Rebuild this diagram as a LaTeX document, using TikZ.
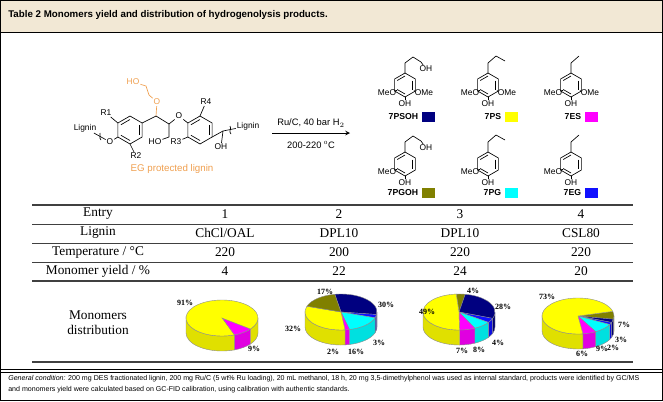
\documentclass[tikz,border=0pt]{standalone}
\usepackage{fontspec}
\setmainfont{Liberation Serif}
\setsansfont{Liberation Sans}
\usetikzlibrary{calc,positioning}
\definecolor{egor}{HTML}{F0A050}
\definecolor{hdr}{HTML}{F2E8D5}
\definecolor{cPSOH}{HTML}{000080}
\definecolor{cPS}{HTML}{FFFF00}
\definecolor{cES}{HTML}{FF00FF}
\definecolor{cPGOH}{HTML}{808000}
\definecolor{cPG}{HTML}{00FFFF}
\definecolor{cEG}{HTML}{1010FF}
\newcommand\hexring[4]{%
 \foreach \k in {0,...,5}{\coordinate (#1-\k) at ({#2+#4*cos(90-60*\k)},{#3-#4*sin(90-60*\k)});}
 \coordinate (#1-c) at (#2,#3);
 \draw[bond] (#1-0)--(#1-1)--(#1-2)--(#1-3)--(#1-4)--(#1-5)--cycle;
 \draw[bond] ($(#1-c)!0.75!(#1-1)$)--($(#1-c)!0.75!(#1-2)$);
 \draw[bond] ($(#1-c)!0.75!(#1-3)$)--($(#1-c)!0.75!(#1-4)$);
 \draw[bond] ($(#1-c)!0.75!(#1-5)$)--($(#1-c)!0.75!(#1-0)$);}
\newcommand\topsl[5]{\fill[#5,draw=black!45,line width=0.3pt] (#1,#2) -- ++({-(#3)}:36 and 18) arc[start angle={-(#3)}, end angle={-(#4)}, x radius=36, y radius=18] -- cycle;}
\newcommand\sidesl[5]{\fill[#5!88!black,draw=black!45,line width=0.3pt] (#1,#2) ++({-(#3)}:36 and 18) arc[start angle={-(#3)}, end angle={-(#4)}, x radius=36, y radius=18] -- ++(0,15) arc[start angle={-(#4)}, end angle={-(#3)}, x radius=36, y radius=18] -- cycle;}
\begin{document}
\begin{tikzpicture}[x=0.75pt,y=-0.75pt,
 bond/.style={line width=0.5pt},
 ch/.style={font=\sffamily\fontsize{6.3}{6.3}\selectfont,inner sep=0.6pt},
 lab/.style={font=\sffamily\bfseries\fontsize{6.5}{7}\selectfont,inner sep=0.5pt},
 sq/.style={minimum width=10pt,minimum height=7pt,inner sep=0pt},
 tb/.style={font=\fontsize{10}{11}\selectfont,inner sep=0pt},
 pl/.style={font=\bfseries\fontsize{6}{6}\selectfont,inner sep=0pt},
 rule/.style={line width=0.6pt,black!75}]
\useasboundingbox (0,0) rectangle (663,401);
\fill[white] (0,0) rectangle (663,401);
\fill[hdr] (0,0) rectangle (663,32);
\draw[line width=0.8pt] (0.5,0.5) rectangle (662.5,400.5);
\draw[line width=0.6pt] (0,32) -- (663,32);
\node[anchor=west,font=\sffamily\bfseries\fontsize{7.3}{8}\selectfont,inner sep=0pt] (title) at (8,15) {Table 2 Monomers yield and distribution of hydrogenolysis products.};
% ---- lignin structure
\hexring{A}{130}{130}{14}
\hexring{B}{200}{130}{14}
\node[ch] (r1) at (106,113) {R1};
\draw[bond] (A-5) -- (r1);
\node[ch] (oA) at (110,142) {O};
\draw[bond] (A-4) -- (oA);
\node[ch] (lig1) at (85,128) {Lignin};
\draw[bond] (oA) -- (lig1);
\draw[bond] (100,133) .. controls (102,136) and (98,137) .. (101,140);
\node[ch] (r2) at (136,156) {R2};
\draw[bond] (A-3) -- (r2);
\coordinate (ca) at (156,116);
\draw[bond] (A-1) -- (ca);
\node[ch,text=egor] (oE) at (157,102) {O};
\draw[bond,egor] (ca) -- (oE);
\coordinate (e1) at (149,95);
\coordinate (e2) at (146,86);
\node[ch,text=egor] (hoE) at (133,82) {HO};
\draw[bond,egor] (oE) -- (e1) -- (e2) -- (hoE);
\coordinate (cb) at (169,124);
\coordinate (cg) at (169,137);
\draw[bond] (ca) -- (cb) -- (cg);
\node[ch] (hoG) at (155,142) {HO};
\draw[bond] (cg) -- (hoG);
\node[ch] (oB) at (179,116) {O};
\draw[bond] (cb) -- (oB) -- (B-5);
\node[ch] (r4) at (206,102) {R4};
\draw[bond] (B-0) -- (r4);
\node[ch] (r3) at (176,142) {R3};
\draw[bond] (B-4) -- (r3);
\coordinate (cc) at (223,131);
\draw[bond] (B-2) -- (cc);
\node[ch] (ohB) at (221,147) {OH};
\draw[bond] (cc) -- (ohB);
\node[ch] (lig2) at (248,126) {Lignin};
\draw[bond] (cc) -- (lig2);
\draw[bond] (230,126) .. controls (232,129) and (228,131) .. (231,134);
\node[font=\sffamily\fontsize{7.3}{8}\selectfont,text=egor] (eg) at (172,169) {EG protected lignin};
% ---- arrow
\coordinate (ar1) at (272,133);
\coordinate (ar2) at (350,133);
\draw[line width=0.6pt,-stealth] (ar1) -- (ar2);
\node[font=\sffamily\fontsize{7}{8}\selectfont] (cond1) at (311,123) {Ru/C, 40 bar H$_2$};
\node[font=\sffamily\fontsize{7}{8}\selectfont] (cond2) at (311,145) {200-220 $^{\mathrm o}$C};
% ---- products
\foreach \nm/\x in {P1/405,P2/488,P3/571}{
 \hexring{\nm}{\x}{85}{12}
 \node[ch] (\nm m) at (\x-18,93) {MeO};
 \draw[bond] (\nm-4) -- (\nm m);
 \node[ch] (\nm e) at (\x+19,93) {OMe};
 \draw[bond] (\nm-2) -- (\nm e);
 \node[ch] (\nm o) at (\x,104) {OH};
 \draw[bond] (\nm-3) -- (\nm o);
}
\foreach \nm/\x in {Q1/405,Q2/488,Q3/571}{
 \hexring{\nm}{\x}{164}{12}
 \node[ch] (\nm m) at (\x-18,172) {MeO};
 \draw[bond] (\nm-4) -- (\nm m);
 \node[ch] (\nm o) at (\x,183) {OH};
 \draw[bond] (\nm-3) -- (\nm o);
}
\coordinate (p1a) at (405,63); \coordinate (p1b) at (413,57); \coordinate (p1c) at (421,62);
\node[ch] (p1oh) at (426,69) {OH};
\draw[bond] (P1-0) -- (p1a) -- (p1b) -- (p1c) -- (p1oh);
\coordinate (p2a) at (488,63); \coordinate (p2b) at (496,56); \coordinate (p2c) at (505,61);
\draw[bond] (P2-0) -- (p2a) -- (p2b) -- (p2c);
\coordinate (p3a) at (571,63); \coordinate (p3b) at (579,56);
\draw[bond] (P3-0) -- (p3a) -- (p3b);
\coordinate (q1a) at (405,142); \coordinate (q1b) at (413,136); \coordinate (q1c) at (421,141);
\node[ch] (q1oh) at (426,148) {OH};
\draw[bond] (Q1-0) -- (q1a) -- (q1b) -- (q1c) -- (q1oh);
\coordinate (q2a) at (488,142); \coordinate (q2b) at (496,135); \coordinate (q2c) at (505,140);
\draw[bond] (Q2-0) -- (q2a) -- (q2b) -- (q2c);
\coordinate (q3a) at (571,142); \coordinate (q3b) at (579,135);
\draw[bond] (Q3-0) -- (q3a) -- (q3b);
\node[lab,anchor=east] (l1) at (419,117) {7PSOH}; \node[sq,fill=cPSOH,right=2pt of l1] (s1) {};
\node[lab,anchor=east] (l2) at (502,117) {7PS}; \node[sq,fill=cPS,right=2pt of l2] (s2) {};
\node[lab,anchor=east] (l3) at (582,117) {7ES}; \node[sq,fill=cES,right=2pt of l3] (s3) {};
\node[lab,anchor=east] (l4) at (419,193) {7PGOH}; \node[sq,fill=cPGOH,right=2pt of l4] (s4) {};
\node[lab,anchor=east] (l5) at (502,193) {7PG}; \node[sq,fill=cPG,right=2pt of l5] (s5) {};
\node[lab,anchor=east] (l6) at (582,193) {7EG}; \node[sq,fill=cEG,right=2pt of l6] (s6) {};
% ---- table
\draw[rule,line width=0.9pt] (32,205) -- (633,205);
\foreach \y in {224,243,262} {\draw[rule] (32,\y) -- (633,\y);}
\draw[rule,line width=0.9pt] (32,281) -- (633,281);
\draw[rule,line width=0.9pt] (32,362) -- (633,362);
\node[tb] (e0) at (98,214) {Entry};
\node[tb] (e1) at (225,214) {1};
\node[tb] (e2) at (339,214) {2};
\node[tb] (e3) at (460,214) {3};
\node[tb] (e4) at (581,214) {4};
\node[tb] (l0) at (98,233) {Lignin};
\node[tb] (lg1) at (225,233) {ChCl/OAL};
\node[tb] (lg2) at (339,233) {DPL10};
\node[tb] (lg3) at (460,233) {DPL10};
\node[tb] (lg4) at (581,233) {CSL80};
\node[tb] (t0) at (98,252) {Temperature / °C};
\node[tb] (t1) at (225,252) {220};
\node[tb] (t2) at (339,252) {200};
\node[tb] (t3) at (460,252) {220};
\node[tb] (t4) at (581,252) {220};
\node[tb] (m0) at (98,271) {Monomer yield / \%};
\node[tb] (m1) at (225,271) {4};
\node[tb] (m2) at (339,271) {22};
\node[tb] (m3) at (460,271) {24};
\node[tb] (m4) at (581,271) {20};
\node[tb,align=center] (md) at (98,323) {Monomers\\distribution};
% ---- pies
\sidesl{222}{318}{-70}{-37.6}{cES}
\sidesl{222}{318}{-37.6}{0}{cPS}
\sidesl{222}{318}{-180}{-70}{cPS}
\topsl{222}{318}{-70}{-37.6}{cES}
\topsl{222}{318}{-37.6}{290}{cPS}
%
\sidesl{341}{312}{-8}{0}{cPSOH}
\sidesl{341}{312}{-18.8}{-8}{cEG}
\sidesl{341}{312}{-76.4}{-18.8}{cPG}
\sidesl{341}{312}{-83.6}{-76.4}{cES}
\sidesl{341}{312}{-180}{-83.6}{cPS}
\topsl{341}{312}{-8}{100}{cPSOH}
\topsl{341}{312}{-18.8}{-8}{cEG}
\topsl{341}{312}{-76.4}{-18.8}{cPG}
\topsl{341}{312}{-83.6}{-76.4}{cES}
\topsl{341}{312}{-198.8}{-83.6}{cPS}
\topsl{341}{312}{100}{161.2}{cPGOH}
%
\sidesl{459}{312}{-20.8}{0}{cPSOH}
\sidesl{459}{312}{-35.2}{-20.8}{cEG}
\sidesl{459}{312}{-64}{-35.2}{cPG}
\sidesl{459}{312}{-89.2}{-64}{cES}
\sidesl{459}{312}{-180}{-89.2}{cPS}
\topsl{459}{312}{80}{94.4}{cPGOH}
\topsl{459}{312}{-20.8}{80}{cPSOH}
\topsl{459}{312}{-35.2}{-20.8}{cEG}
\topsl{459}{312}{-64}{-35.2}{cPG}
\topsl{459}{312}{-89.2}{-64}{cES}
\topsl{459}{312}{-265.6}{-89.2}{cPS}
%
\sidesl{578}{316}{-10.2}{0}{cPGOH}
\sidesl{578}{316}{-21}{-10.2}{cPSOH}
\sidesl{578}{316}{-28.2}{-21}{cEG}
\sidesl{578}{316}{-60.6}{-28.2}{cPG}
\sidesl{578}{316}{-82.2}{-60.6}{cES}
\sidesl{578}{316}{-180}{-82.2}{cPS}
\topsl{578}{316}{-10.2}{15}{cPGOH}
\topsl{578}{316}{-21}{-10.2}{cPSOH}
\topsl{578}{316}{-28.2}{-21}{cEG}
\topsl{578}{316}{-60.6}{-28.2}{cPG}
\topsl{578}{316}{-82.2}{-60.6}{cES}
\topsl{578}{316}{15}{277.8}{cPS}
\node[pl] (a1) at (185,303) {91\%};
\node[pl] (a2) at (254,349) {9\%};
\node[pl] (b1) at (325,292) {17\%};
\node[pl] (b2) at (386,305) {30\%};
\node[pl] (b3) at (293,329) {32\%};
\node[pl] (b4) at (379,343) {3\%};
\node[pl] (b5) at (333,352) {2\%};
\node[pl] (b6) at (356,352) {16\%};
\node[pl] (c1) at (473,291) {4\%};
\node[pl] (c2) at (503,307) {28\%};
\node[pl] (c3) at (427,312) {49\%};
\node[pl] (c4) at (498,343) {4\%};
\node[pl] (c5) at (462,351) {7\%};
\node[pl] (c6) at (479,350) {8\%};
\node[pl] (d1) at (547,297) {73\%};
\node[pl] (d2) at (624,325) {7\%};
\node[pl] (d3) at (621,340) {3\%};
\node[pl] (d4) at (613,348) {2\%};
\node[pl] (d5) at (602,349) {9\%};
\node[pl] (d6) at (582,354) {6\%};
% ---- footer
\draw[line width=0.6pt] (0,369) -- (663,369);
\draw[line width=0.6pt] (0,372) -- (663,372);
\node[anchor=west,align=left,font=\sffamily\fontsize{5.3}{8}\selectfont,inner sep=0pt] (foot) at (8,384) {\textit{General condition:} 200 mg DES fractionated lignin, 200 mg Ru/C (5 wt\% Ru loading), 20 mL methanol, 18 h, 20 mg 3,5-dimethylphenol was used as internal standard, products were identified by GC/MS\\and monomers yield were calculated based on GC-FID calibration, using calibration with authentic standards.};
\end{tikzpicture}
\end{document}
